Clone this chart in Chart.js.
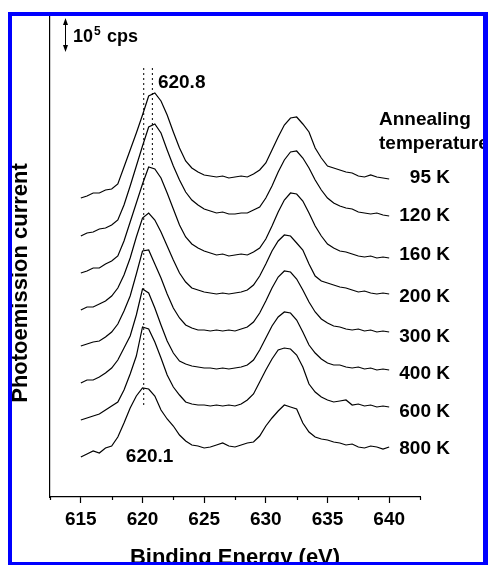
<!DOCTYPE html>
<html>
<head>
<meta charset="utf-8">
<script src="https://cdn.jsdelivr.net/npm/chart.js@4.4.0/dist/chart.umd.min.js"></script>
<style>
  html, body { margin: 0; padding: 0; background: #fff; }
  #wrap { position: relative; width: 488px; height: 565px; overflow: hidden; }
  #chart { position: absolute; left: 0; top: 0; }
  .frame {
    position: absolute; left: 8px; top: 12px; width: 480px; height: 554px;
    box-sizing: border-box; border: 4px solid #0000ff; border-right-width: 5px;
    pointer-events: none;
  }
</style>
</head>
<body>
<div id="wrap">
  <canvas id="chart" width="488" height="565"></canvas>
  <div class="frame"></div>
</div>
<script>
// binding energy grid (eV)
const energy = [615,615.5,616,616.5,617,617.5,618,618.5,619,619.5,620,620.5,621,621.5,622,622.5,623,623.5,624,624.5,
  625,625.5,626,626.5,627,627.5,628,628.5,629,629.5,630,630.5,631,631.5,632,632.5,633,633.5,634,634.5,
  635,635.5,636,636.5,637,637.5,638,638.5,639,639.5,640];

const temps = ["95 K", "120 K", "160 K", "200 K", "300 K", "400 K", "600 K", "800 K"];

// spectra, height above their own start (arb. units, 34 = 10^5 cps)
const k95  = [0,2,5,5,8,9,14, 31,48,65,83,102,105,97,83,66,50,37,30,26,23,22,21,22,20,21,22,21,24,28,35,48,61,73,80,81,74,66,50,40,32,30,28,26,25,22,21,23,21,20,19];
const k120 = [0,3,4,7,8,11,16, 31,50,70,90,109,112,103,86,70,56,44,36,31,27,25,23,24,22,22,23,23,26,29,38,50,64,76,84,85,78,68,56,46,38,33,30,28,27,24,23,22,23,21,20];
const k160 = [0,2,5,5,9,12,17, 32,51,70,89,106,104,95,80,64,48,36,29,25,22,20,18,19,17,18,19,18,21,25,34,47,61,73,80,79,72,60,47,37,29,25,22,21,19,17,16,17,15,16,15];
const k200 = [0,3,3,6,9,14,22, 35,52,73,92,97,90,78,64,50,37,28,22,20,18,17,16,17,16,17,18,20,25,34,46,59,69,75,74,67,60,46,34,29,27,25,23,22,20,18,19,17,16,17,16];
const k300 = [0,2,4,5,9,14,22, 35,50,72,95,96,82,68,52,38,28,21,18,16,16,15,16,15,16,15,17,19,24,33,45,58,69,75,74,67,56,44,34,27,23,20,19,17,16,17,15,16,14,15,14];
const k400 = [0,3,3,6,10,15,23, 35,47,68,94,90,75,58,42,30,22,19,17,16,15,15,14,15,14,15,16,18,23,33,45,57,66,71,70,63,51,38,30,24,20,18,18,16,15,16,14,15,13,14,13];
const k600 = [0,2,4,6,10,14,18, 30,46,64,93,91,78,62,45,33,25,18,16,15,15,14,15,14,15,14,16,20,26,38,50,61,70,72,71,65,53,36,28,23,20,18,19,20,15,16,14,15,13,14,13];
const k800 = [0,3,6,4,9,11,20, 34,49,61,69,68,61,47,38,31,22,16,12,11,9,10,12,14,11,10,12,14,15,21,31,39,46,52,50,48,34,25,20,18,17,15,14,12,13,10,9,11,10,8,10];

// vertical offset of each spectrum in the stack
const offsets = [299, 261, 224, 187, 151, 114, 77, 40];

// peak markers (eV) and the 10^5 cps bar
const peakMarks = [620.1, 620.8];
const markTop = 429;
const markBottom = [92, 332];
const cpsBar = 34;

const spectra = [k95, k120, k160, k200, k300, k400, k600, k800];
const FONT = '"Liberation Sans", Arial, sans-serif';
Chart.defaults.font.family = FONT;

const datasets = spectra.map((s, i) => ({
  data: s.map((v, j) => ({ x: energy[j], y: v + offsets[i] })),
  borderColor: "#000",
  borderWidth: 1.2,
  pointRadius: 0,
  tension: 0,
  fill: false,
}));

peakMarks.forEach((e, i) => {
  datasets.push({
    data: [{ x: e, y: markTop }, { x: e, y: markBottom[i] }],
    borderColor: "#000",
    borderWidth: 1,
    borderDash: [2, 3],
    pointRadius: 0,
    fill: false,
  });
});

const labelY = [183, 221, 260, 302, 342, 379, 417, 454];

const textPlugin = {
  id: "texts",
  afterDraw(chart) {
    const { ctx, chartArea } = chart;
    const xs = chart.scales.x;
    const ys = chart.scales.y;
    ctx.save();
    ctx.fillStyle = "#000";
    ctx.strokeStyle = "#000";

    // minor ticks
    ctx.lineWidth = 1.2;
    xs.ticks.forEach((t) => {
      if (t.value % 5 !== 0) {
        const px = Math.round(xs.getPixelForValue(t.value)) + 0.5;
        ctx.beginPath();
        ctx.moveTo(px, chartArea.bottom);
        ctx.lineTo(px, chartArea.bottom + 3);
        ctx.stroke();
      }
    });

    ctx.font = "bold 19px " + FONT;
    ctx.textBaseline = "alphabetic";
    ctx.textAlign = "right";
    temps.forEach((t, i) => ctx.fillText(t, 450, labelY[i]));
    ctx.textAlign = "left";
    ctx.fillText("Annealing", 379, 125);
    ctx.fillText("temperature", 379, 149);
    ctx.fillText("620.8", xs.getPixelForValue(621.25), 88);
    ctx.fillText("620.1", xs.getPixelForValue(618.65), 462);

    // 10^5 cps scale bar
    const bx = Math.round(xs.getPixelForValue(613.7)) + 0.5;
    const y1 = ys.getPixelForValue(479);
    const y2 = ys.getPixelForValue(479 - cpsBar);
    ctx.lineWidth = 1;
    ctx.beginPath();
    ctx.moveTo(bx, y1 + 3);
    ctx.lineTo(bx, y2 - 3);
    ctx.stroke();
    ctx.beginPath();
    ctx.moveTo(bx, y1); ctx.lineTo(bx - 2.5, y1 + 7); ctx.lineTo(bx + 2.5, y1 + 7); ctx.closePath();
    ctx.moveTo(bx, y2); ctx.lineTo(bx - 2.5, y2 - 7); ctx.lineTo(bx + 2.5, y2 - 7); ctx.closePath();
    ctx.fill();

    ctx.font = "bold 18px " + FONT;
    ctx.fillText("10", 73, 42);
    ctx.fillText("cps", 107, 42);
    ctx.font = "bold 12px " + FONT;
    ctx.fillText("5", 94, 35);

    // axis titles
    ctx.font = "bold 22px " + FONT;
    ctx.textAlign = "center";
    ctx.fillText("Binding Energy (eV)", (chartArea.left + chartArea.right) / 2, 564);
    ctx.translate(26.5, 283);
    ctx.rotate(-Math.PI / 2);
    ctx.fillText("Photoemission current", 0, 0);
    ctx.restore();
  },
};

new Chart(document.getElementById("chart"), {
  type: "line",
  data: { datasets },
  options: {
    responsive: false,
    animation: false,
    layout: { padding: { left: 50, top: 16, right: 68, bottom: 0 } },
    plugins: { legend: { display: false }, tooltip: { enabled: false } },
    scales: {
      x: {
        type: "linear",
        min: 612.5,
        max: 642.5,
        afterFit: (s) => { s.height = 68; },
        ticks: {
          stepSize: 2.5,
          autoSkip: false,
          maxRotation: 0,
          padding: 5,
          color: "#000",
          font: { size: 19, weight: "bold" },
          callback: (v) => (v % 5 === 0 ? v : ""),
        },
        grid: {
          display: true,
          drawOnChartArea: false,
          tickLength: 6,
          tickWidth: 1.2,
          tickColor: (c) => (c.tick && c.tick.value % 5 === 0 ? "#000" : "rgba(0,0,0,0)"),
        },
        border: { display: true, color: "#000", width: 1.2 },
      },
      y: {
        min: 0,
        max: 481,
        afterFit: (s) => { s.width = 0; },
        ticks: { display: false },
        grid: { display: false },
        border: { display: true, color: "#000", width: 1.2 },
      },
    },
  },
  plugins: [textPlugin],
});
</script>
</body>
</html>
